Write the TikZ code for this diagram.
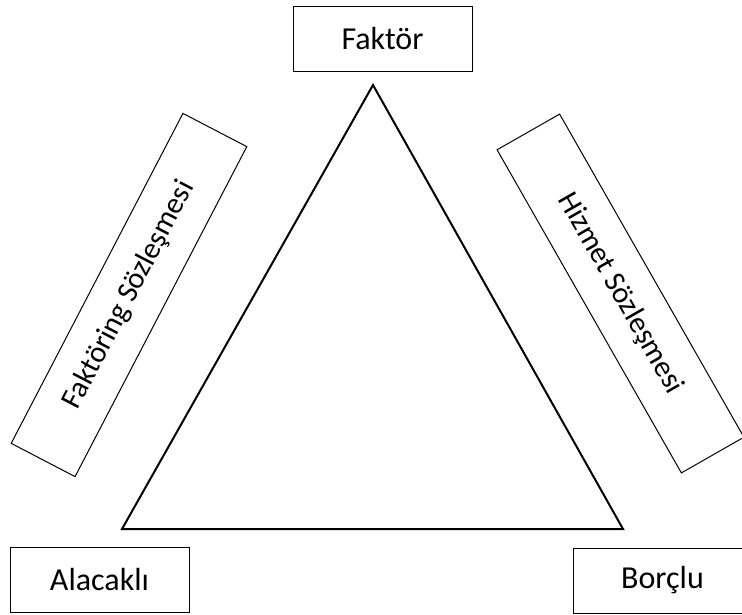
\documentclass[tikz,border=0pt]{standalone}
\usepackage{fontspec}
\setmainfont{Carlito}
\tikzset{
  party/.style={draw, line width=1pt, minimum width=179pt, minimum height=65pt, inner sep=0pt, font=\fontsize{32}{36}\selectfont},
  contract/.style={draw, line width=1pt, minimum width=372pt, minimum height=72pt, inner sep=0pt, font=\fontsize{30}{34}\selectfont}
}
\begin{document}
\begin{tikzpicture}[x=1pt,y=-1pt]
	\useasboundingbox (0,0) rectangle (742,614);
	\coordinate (A) at (373,85);
	\coordinate (B) at (122,529);
	\coordinate (C) at (623,529);
	\draw [line width=2pt, line join=miter] (A)--(B)--(C)--cycle;
	\node[party] (faktor) at (382.5,38.5) {Faktör};
	\node[party] (alacakli) at (99.5,579.5) {Alacaklı};
	\node[party] (borclu) at (662.5,580.5) {Borçlu};
	\node[contract, rotate=62.5] (fsoz) at (129,295) {Faktöring Sözleşmesi};
	\node[contract, rotate=-60.3] (hsoz) at (620.5,293.5) {Hizmet Sözleşmesi};
\end{tikzpicture}
\end{document}
